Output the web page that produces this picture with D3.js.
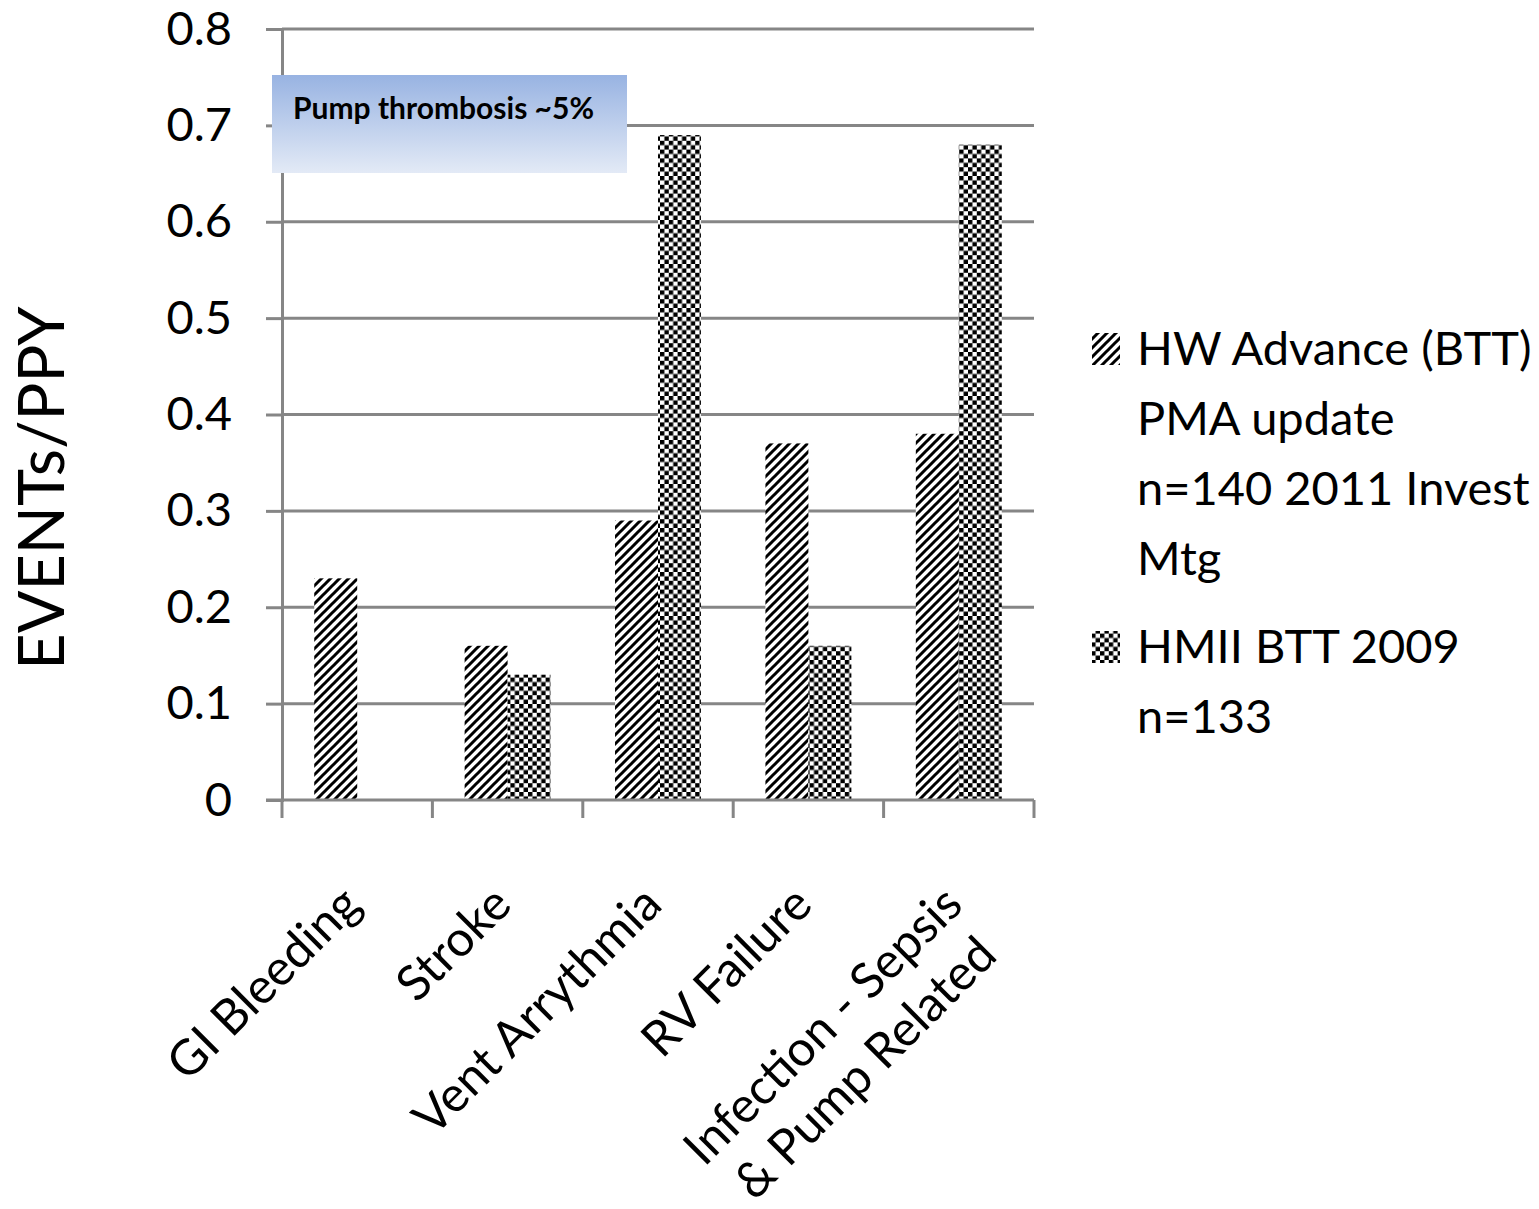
<!DOCTYPE html>
<html>
<head>
<meta charset="utf-8">
<script src="https://cdn.jsdelivr.net/npm/d3@7"></script>
<style>
	body { margin: 0; background: #fff; }
	text { font-family: Lato, "Open Sans", sans-serif; fill: #000; }
</style>
</head>
<body>
<div id="graphicContainer"></div>
<script>

var categories = [["GI Bleeding"], ["Stroke"], ["Vent Arrythmia"], ["RV Failure"], ["Infection - Sepsis", "& Pump Related"]]
var seriesNames = ["HW Advance (BTT)", "HMII BTT 2009"]
var legendLines = [["HW Advance (BTT)", "PMA update", "n=140 2011 Invest", "Mtg"], ["HMII BTT 2009", "n=133"]]
var hwValues = [0.23, 0.16, 0.29, 0.37, 0.38]
var hmiiValues = [null, 0.13, 0.69, 0.16, 0.68]
var yTicks = [0, 0.1, 0.2, 0.3, 0.4, 0.5, 0.6, 0.7, 0.8]
var yTitle = "EVENTs/PPY"
var note = "Pump thrombosis ~5%"

function init() {

	var width = 1539
	var height = 1209
	var margin = {top: 29, right: 505, bottom: 409, left: 282}
	var grey = "#868686"

	var svg = d3.select("#graphicContainer").append("svg")
		.attr("width", width)
		.attr("height", height)

	var defs = svg.append("defs")

	// diagonal hatch for HW
	var hatch = defs.append("pattern")
		.attr("id", "hatch")
		.attr("patternUnits", "userSpaceOnUse")
		.attr("width", 9).attr("height", 9)
	hatch.append("rect").attr("width", 9).attr("height", 9).attr("fill", "#fff")
	hatch.append("path")
		.attr("d", "M-2,2 L2,-2 M0,9 L9,0 M7,11 L11,7")
		.attr("stroke", "#000")
		.attr("stroke-width", 3)

	// checkerboard for HMII
	var check = defs.append("pattern")
		.attr("id", "check")
		.attr("patternUnits", "userSpaceOnUse")
		.attr("width", 8.8).attr("height", 8.8)
	check.append("rect").attr("width", 8.8).attr("height", 8.8).attr("fill", "#fff")
	check.append("rect").attr("width", 4.4).attr("height", 4.4).attr("fill", "#000")
	check.append("rect").attr("x", 4.4).attr("y", 4.4).attr("width", 4.4).attr("height", 4.4).attr("fill", "#000")

	var grad = defs.append("linearGradient")
		.attr("id", "noteGrad")
		.attr("x1", 0).attr("y1", 0).attr("x2", 0).attr("y2", 1)
	grad.append("stop").attr("offset", "0%").attr("stop-color", "#98b3e2")
	grad.append("stop").attr("offset", "100%").attr("stop-color", "#e3eaf6")

	var fills = ["url(#hatch)", "url(#check)"]

	var x0 = d3.scaleBand()
		.domain(d3.range(categories.length))
		.range([margin.left, width - margin.right])
		.padding(0)

	var x1 = d3.scaleBand()
		.domain(seriesNames)
		.range([0, x0.bandwidth()])
		.paddingInner(0)
		.paddingOuter(0.75)

	var y = d3.scaleLinear()
		.domain([0, 0.8])
		.range([height - margin.bottom, margin.top])

	// gridlines
	svg.append("g")
		.selectAll("line")
		.data(yTicks.filter(d => d > 0))
		.enter()
		.append("line")
		.attr("x1", margin.left)
		.attr("x2", width - margin.right)
		.attr("y1", d => y(d))
		.attr("y2", d => y(d))
		.attr("stroke", grey)
		.attr("stroke-width", 3)

	// bars
	var bars = []
	categories.forEach(function(c, i) {
		bars.push({cat: i, series: seriesNames[0], value: hwValues[i], fill: fills[0]})
		if (hmiiValues[i] != null) bars.push({cat: i, series: seriesNames[1], value: hmiiValues[i], fill: fills[1]})
	})

	svg.append("g")
		.selectAll("rect")
		.data(bars)
		.enter()
		.append("rect")
		.attr("x", d => x0(d.cat) + x1(d.series))
		.attr("width", x1.bandwidth())
		.attr("y", d => y(d.value))
		.attr("height", d => y(0) - y(d.value))
		.attr("fill", d => d.fill)

	// y axis
	var yAxis = svg.append("g")
		.attr("transform", "translate(" + margin.left + ",0)")
		.call(d3.axisLeft(y).tickValues(yTicks).tickSize(16).tickPadding(34).tickFormat(d3.format("~g")))
	yAxis.select(".domain").attr("stroke", grey).attr("stroke-width", 3)
	yAxis.selectAll(".tick line").attr("stroke", grey).attr("stroke-width", 3)
	yAxis.selectAll(".tick text")
		.attr("font-family", "Lato")
		.attr("font-size", 47)
		.attr("fill", "#000")

	// x axis
	var xAxis = svg.append("g")
		.attr("transform", "translate(0," + y(0) + ")")
	xAxis.append("line")
		.attr("x1", margin.left - 16)
		.attr("x2", width - margin.right)
		.attr("stroke", grey)
		.attr("stroke-width", 3)
	xAxis.selectAll(".xtick")
		.data(d3.range(categories.length + 1))
		.enter()
		.append("line")
		.attr("x1", d => margin.left + d * x0.step())
		.attr("x2", d => margin.left + d * x0.step())
		.attr("y1", 0)
		.attr("y2", 18)
		.attr("stroke", grey)
		.attr("stroke-width", 3)

	// category labels
	var labelSize = 49
	var labels = svg.append("g")
		.selectAll("g")
		.data(categories)
		.enter()
		.append("g")
		.attr("transform", (d, i) => "translate(" + (x0(i) + x0.bandwidth() / 2 - 6) + "," + (y(0) + 95) + ") rotate(-45)")

	labels.each(function(lines) {
		var g = d3.select(this)
		var t = g.append("text")
			.attr("font-size", labelSize)
			.attr("text-anchor", "middle")
		lines.forEach(function(l, k) {
			t.append("tspan")
				.attr("x", 0)
				.attr("y", k * 60)
				.attr("dy", "0.35em")
				.text(l)
		})
		var w = d3.max(t.selectAll("tspan").nodes(), n => n.getComputedTextLength())
		t.selectAll("tspan").attr("x", -w / 2)
	})

	// y title
	svg.append("text")
		.attr("transform", "translate(64,488) rotate(-90)")
		.attr("text-anchor", "middle")
		.attr("font-size", 63)
		.text(yTitle)

	// annotation box
	svg.append("rect")
		.attr("x", 272).attr("y", 75)
		.attr("width", 355).attr("height", 98)
		.attr("fill", "url(#noteGrad)")
	svg.append("text")
		.attr("x", 293).attr("y", 119)
		.attr("font-size", 30)
		.attr("font-weight", "bold")
		.text(note)

	// legend
	var legend = svg.append("g")
	var legendTop = [365, 663]
	legendLines.forEach(function(lines, i) {
		legend.append("rect")
			.attr("x", 1092)
			.attr("y", legendTop[i] - 32)
			.attr("width", 28)
			.attr("height", 32)
			.attr("fill", fills[i])
		var t = legend.append("text")
			.attr("font-size", 47)
		lines.forEach(function(l, k) {
			t.append("tspan")
				.attr("x", 1137)
				.attr("y", legendTop[i] + k * 70)
				.text(l)
		})
	})

}

init()
</script>
</body>
</html>
